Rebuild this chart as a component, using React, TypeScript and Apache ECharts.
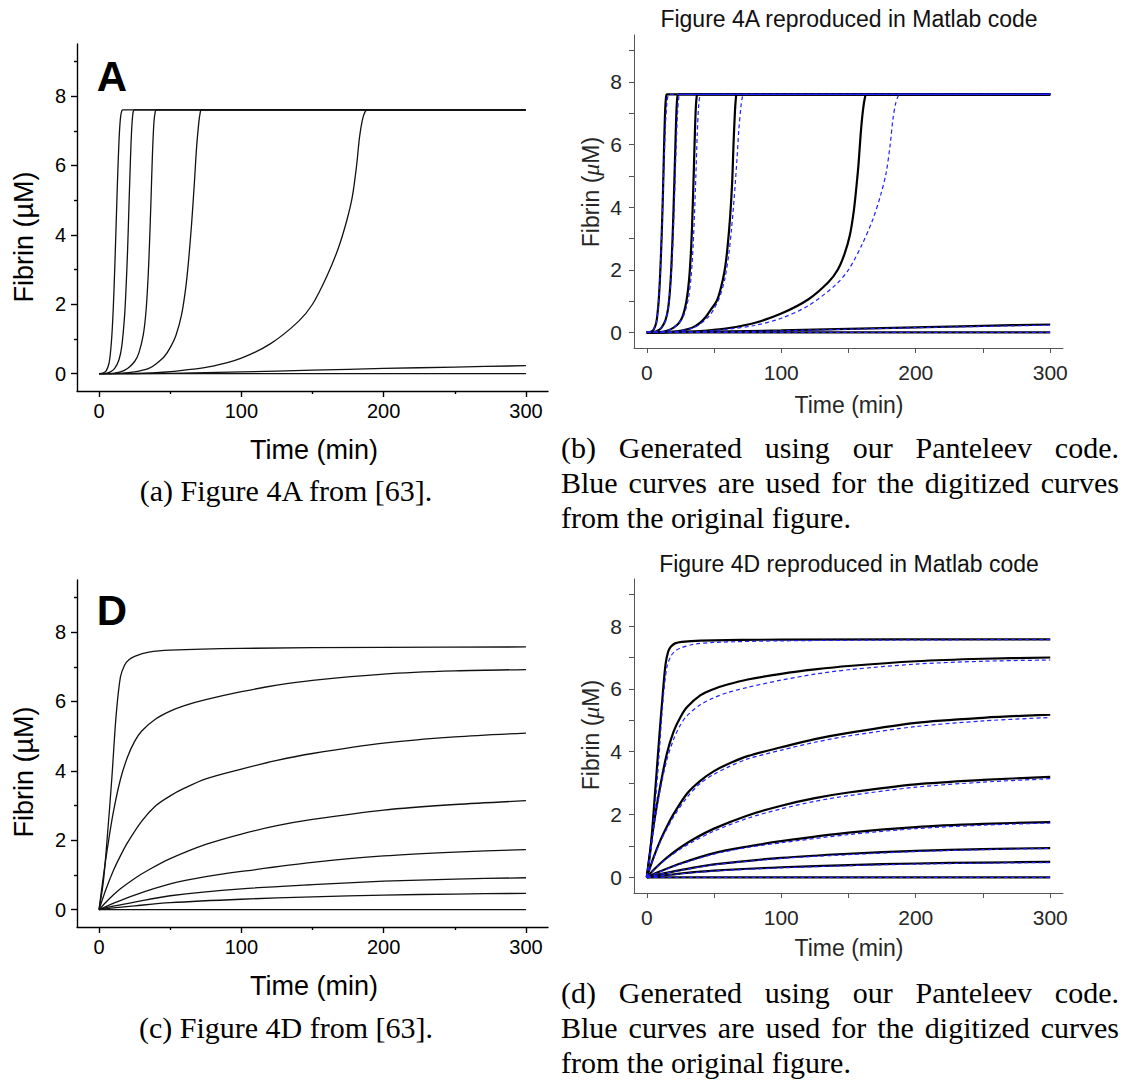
import React, { useEffect, useRef } from "react";
import * as echarts from "echarts";

// ---------- tick definitions ----------
const X_LABELS = [0, 100, 200, 300];
const X_MINOR = [50, 150, 250];
const Y_LABELS = [0, 2, 4, 6, 8];
const Y_MINOR = [1, 3, 5, 7, 9];

const fig4A_c1 = [[0, 0], [3, 0.02], [5, 0.08], [7, 0.3], [8, 0.6], [9, 1.1], [10, 1.9], [11, 3.0], [12, 4.3], [13, 5.6], [14, 6.7], [15, 7.35], [16, 7.58], [17, 7.6], [300, 7.6]];
const fig4A_c2 = [[0, 0], [5, 0.01], [8, 0.05], [11, 0.15], [14, 0.4], [16, 0.8], [18, 1.7], [19, 2.5], [20, 3.5], [21, 4.8], [22, 6.1], [23, 7.1], [24, 7.55], [25, 7.6], [300, 7.6]];
const fig4A_c3 = [[0, 0], [10, 0.01], [15, 0.05], [20, 0.15], [25, 0.35], [28, 0.6], [31, 1.1], [33, 1.8], [34.5, 2.8], [35.5, 3.8], [36.5, 5.0], [37.5, 6.3], [38.5, 7.2], [39.5, 7.55], [40.5, 7.6], [300, 7.6]];
const fig4A_c4 = [[0, 0], [15, 0.01], [25, 0.05], [35, 0.15], [40, 0.28], [46, 0.5], [50, 0.75], [54, 1.1], [58, 1.7], [61, 2.5], [63, 3.3], [65, 4.3], [67, 5.5], [68.5, 6.5], [70, 7.2], [71, 7.5], [72, 7.6], [300, 7.6]];
const fig4A_c5 = [[0, 0], [30, 0.01], [45, 0.04], [60, 0.1], [80, 0.22], [100, 0.45], [120, 0.85], [140, 1.5], [150, 2.0], [160, 2.8], [168, 3.6], [174, 4.4], [178, 5.1], [181, 6.0], [183, 6.8], [185, 7.3], [187, 7.55], [189, 7.6], [300, 7.6]];
const fig4A_c6 = [[0, 0], [50, 0.01], [100, 0.05], [150, 0.1], [200, 0.15], [250, 0.19], [300, 0.23]];
const fig4A_c7 = [[0, 0], [300, 0]];

// ---------- Figure 4A model (black curves in panel b) ----------
const model4A_1 = [[0, 0], [3, 0.02], [5, 0.08], [7, 0.3], [8, 0.6], [9, 1.1], [10, 1.9], [11, 3.0], [12, 4.4], [12.8, 5.8], [13.5, 6.9], [14.2, 7.45], [15, 7.6], [300, 7.6]];
const model4A_2 = [[0, 0], [5, 0.01], [8, 0.05], [11, 0.15], [14, 0.4], [16, 0.8], [17.5, 1.5], [18.5, 2.3], [19.5, 3.4], [20.5, 4.8], [21.3, 6.0], [22, 7.0], [22.7, 7.5], [23.5, 7.6], [300, 7.6]];
const model4A_3 = [[0, 0], [10, 0.01], [15, 0.05], [20, 0.15], [24, 0.3], [27, 0.55], [29.5, 1.0], [31.5, 1.7], [33, 2.7], [34, 3.8], [35, 5.2], [35.8, 6.4], [36.5, 7.2], [37.2, 7.55], [38, 7.6], [300, 7.6]];
const model4A_4 = [[0, 0], [15, 0.01], [25, 0.05], [32, 0.12], [36, 0.2], [40, 0.32], [44, 0.5], [48, 0.75], [52, 1.0], [55, 1.4], [58, 2.0], [60, 2.7], [62, 3.7], [63.5, 4.8], [64.5, 6.0], [65.5, 7.0], [66.3, 7.5], [67, 7.6], [300, 7.6]];
const model4A_5 = [[0, 0], [30, 0.02], [45, 0.06], [60, 0.13], [80, 0.3], [100, 0.6], [120, 1.05], [135, 1.6], [142, 2.0], [147, 2.5], [151, 3.1], [154, 3.9], [156, 4.7], [157.5, 5.4], [159, 6.3], [160.5, 7.0], [162, 7.45], [163.5, 7.6], [300, 7.6]];
const model4A_6 = [[0, 0], [50, 0.02], [100, 0.06], [150, 0.11], [200, 0.16], [250, 0.21], [300, 0.25]];
const model4A_7 = [[0, 0], [300, 0]];

const fig4D_c1 = [[0, 0], [3, 0.8], [6, 2.2], [9, 3.8], [12, 5.6], [15, 6.7], [18, 7.05], [21, 7.2], [25, 7.3], [35, 7.42], [50, 7.48], [100, 7.53], [200, 7.56], [300, 7.57]];
const fig4D_c2 = [[0, 0], [3, 0.95], [6, 1.8], [10, 2.8], [15, 3.75], [20, 4.4], [25, 4.85], [30, 5.15], [40, 5.5], [50, 5.72], [60, 5.88], [75, 6.05], [100, 6.28], [125, 6.47], [150, 6.61], [200, 6.79], [250, 6.88], [300, 6.92]];
const fig4D_c3 = [[0, 0], [5, 0.6], [10, 1.12], [15, 1.55], [20, 1.93], [30, 2.55], [40, 3.0], [50, 3.28], [60, 3.5], [75, 3.77], [100, 4.05], [125, 4.3], [150, 4.5], [200, 4.8], [250, 4.98], [300, 5.09]];
const fig4D_c4 = [[0, 0], [5, 0.22], [10, 0.42], [15, 0.6], [25, 0.9], [35, 1.15], [50, 1.47], [75, 1.88], [100, 2.18], [125, 2.42], [150, 2.6], [200, 2.87], [250, 3.03], [300, 3.14]];
const fig4D_c5 = [[0, 0], [10, 0.18], [25, 0.42], [50, 0.74], [75, 0.95], [100, 1.1], [150, 1.36], [200, 1.55], [250, 1.66], [300, 1.73]];
const fig4D_c6 = [[0, 0], [10, 0.1], [25, 0.22], [50, 0.4], [100, 0.6], [150, 0.72], [200, 0.82], [250, 0.88], [300, 0.92]];
const fig4D_c7 = [[0, 0], [10, 0.05], [25, 0.11], [50, 0.2], [100, 0.3], [150, 0.37], [200, 0.42], [250, 0.45], [300, 0.47]];
const fig4D_c8 = [[0, 0], [300, 0]];

// ---------- Figure 4D model (black curves in panel d) ----------
const model4D_1 = [[0, 0], [3, 1.0], [6, 2.6], [9, 4.3], [12, 5.9], [14, 6.8], [16, 7.2], [18, 7.35], [21, 7.45], [26, 7.5], [40, 7.54], [100, 7.57], [300, 7.58]];
const model4D_2 = [[0, 0], [3, 1.0], [6, 1.9], [10, 2.9], [15, 3.95], [20, 4.65], [25, 5.1], [30, 5.42], [40, 5.8], [50, 6.0], [60, 6.14], [75, 6.3], [100, 6.48], [125, 6.62], [150, 6.73], [200, 6.88], [250, 6.96], [300, 7.0]];
const model4D_3 = [[0, 0], [5, 0.63], [10, 1.17], [15, 1.62], [20, 2.02], [30, 2.67], [40, 3.08], [50, 3.38], [60, 3.6], [75, 3.86], [100, 4.14], [125, 4.4], [150, 4.6], [200, 4.92], [250, 5.08], [300, 5.18]];
const model4D_4 = [[0, 0], [5, 0.23], [10, 0.44], [15, 0.63], [25, 0.95], [35, 1.22], [50, 1.55], [75, 1.97], [100, 2.28], [125, 2.52], [150, 2.7], [200, 2.96], [250, 3.1], [300, 3.2]];
const model4D_5 = [[0, 0], [10, 0.19], [25, 0.44], [50, 0.77], [75, 0.98], [100, 1.15], [150, 1.42], [200, 1.6], [250, 1.7], [300, 1.76]];
const model4D_6 = [[0, 0], [10, 0.1], [25, 0.23], [50, 0.41], [100, 0.62], [150, 0.75], [200, 0.84], [250, 0.9], [300, 0.93]];
const model4D_7 = [[0, 0], [10, 0.05], [25, 0.12], [50, 0.21], [100, 0.32], [150, 0.39], [200, 0.44], [250, 0.47], [300, 0.49]];
const model4D_8 = [[0, 0], [300, 0]];

const ORIG_4A = [fig4A_c1, fig4A_c2, fig4A_c3, fig4A_c4, fig4A_c5, fig4A_c6, fig4A_c7];
const MODEL_4A = [model4A_1, model4A_2, model4A_3, model4A_4, model4A_5, model4A_6, model4A_7];
const ORIG_4D = [fig4D_c1, fig4D_c2, fig4D_c3, fig4D_c4, fig4D_c5, fig4D_c6, fig4D_c7, fig4D_c8];
const MODEL_4D = [model4D_1, model4D_2, model4D_3, model4D_4, model4D_5, model4D_6, model4D_7, model4D_8];

const SANS = "'Liberation Sans', Arial, sans-serif";
const SERIF = "'Liberation Serif', 'Times New Roman', serif";

type Panel = {
  left: number; top: number; width: number; height: number;
  xMin: number; xMax: number; origin: boolean;
};

const PANELS: Panel[] = [
  { left: 77, top: 44, width: 471, height: 347, xMin: -15.5, xMax: 315.5, origin: true },
  { left: 634, top: 35, width: 429, height: 313, xMin: -9.5, xMax: 309.5, origin: false },
  { left: 77, top: 580, width: 471, height: 347, xMin: -15.5, xMax: 315.5, origin: true },
  { left: 634, top: 579, width: 429, height: 314, xMin: -9.5, xMax: 309.5, origin: false },
];

function buildAxes() {
  const xAxis: any[] = [];
  const yAxis: any[] = [];
  PANELS.forEach((p, g) => {
    const lineColor = p.origin ? "#000" : "#555";
    const lineWidth = p.origin ? 1.4 : 1;
    const textColor = p.origin ? "#000" : "#262626";
    const fontSize = p.origin ? 20 : 21;
    const majorLen = p.origin ? 6 : 5;
    const minorLen = p.origin ? 3 : 5;
    const common = { type: "value", gridIndex: g, splitLine: { show: false } };
    xAxis.push({
      ...common, min: p.xMin, max: p.xMax, position: "bottom",
      axisLine: { show: true, onZero: false, lineStyle: { color: lineColor, width: lineWidth } },
      axisTick: { show: true, length: majorLen, customValues: X_LABELS, lineStyle: { color: lineColor, width: lineWidth } },
      axisLabel: { show: true, customValues: X_LABELS, margin: p.origin ? 10 : 14, fontSize, color: textColor, fontFamily: SANS },
    });
    xAxis.push({
      ...common, min: p.xMin, max: p.xMax, position: "bottom",
      axisLine: { show: false, onZero: false },
      axisTick: { show: true, length: minorLen, customValues: X_MINOR, lineStyle: { color: lineColor, width: lineWidth } },
      axisLabel: { show: false },
    });
    yAxis.push({
      ...common, min: -0.5, max: 9.5, position: "left",
      axisLine: { show: true, onZero: false, lineStyle: { color: lineColor, width: lineWidth } },
      axisTick: { show: true, length: majorLen, customValues: Y_LABELS, lineStyle: { color: lineColor, width: lineWidth } },
      axisLabel: { show: true, customValues: Y_LABELS, margin: p.origin ? 11 : 12, fontSize, color: textColor, fontFamily: SANS },
    });
    yAxis.push({
      ...common, min: -0.5, max: 9.5, position: "left",
      axisLine: { show: false, onZero: false },
      axisTick: { show: true, length: minorLen, customValues: Y_MINOR, lineStyle: { color: lineColor, width: lineWidth } },
      axisLabel: { show: false },
    });
  });
  return { xAxis, yAxis };
}

function lineSeries(data: number[][], g: number, color: string, width: number, dashed: boolean, z: number) {
  return {
    type: "line",
    xAxisIndex: 2 * g,
    yAxisIndex: 2 * g,
    data,
    showSymbol: false,
    symbol: "none",
    silent: true,
    smooth: 0.3,
    z,
    lineStyle: { color, width, type: dashed ? [4, 3] : "solid" },
  };
}

function buildSeries() {
  const s: any[] = [];
  ORIG_4A.forEach((d) => s.push(lineSeries(d, 0, "#111", 1.3, false, 2)));
  MODEL_4A.forEach((d) => s.push(lineSeries(d, 1, "#000", 2.2, false, 2)));
  ORIG_4A.forEach((d) => s.push(lineSeries(d, 1, "#1f1fff", 1.2, true, 3)));
  ORIG_4D.forEach((d) => s.push(lineSeries(d, 2, "#111", 1.3, false, 2)));
  MODEL_4D.forEach((d) => s.push(lineSeries(d, 3, "#000", 2.2, false, 2)));
  ORIG_4D.forEach((d) => s.push(lineSeries(d, 3, "#1f1fff", 1.2, true, 3)));
  return s;
}

const CAP_FONT = 30;

function measure(text: string) {
  const c = document.createElement("canvas").getContext("2d");
  if (!c) return text.length * CAP_FONT * 0.45;
  c.font = `${CAP_FONT}px 'Liberation Serif'`;
  return c.measureText(text).width;
}

function justified(words: string[], x0: number, x1: number, y: number) {
  const widths = words.map(measure);
  const total = widths.reduce((a, b) => a + b, 0);
  const gap = (x1 - x0 - total) / (words.length - 1);
  let x = x0;
  return words.map((w, i) => {
    const el = {
      type: "text", x, y,
      style: { text: w, fontSize: CAP_FONT, fontFamily: SERIF, fill: "#000", align: "left", verticalAlign: "middle" },
    };
    x += widths[i] + gap;
    return el;
  });
}

function txt(text: string, x: number, y: number, size: number, opts: any = {}) {
  return {
    type: "text", x, y, rotation: opts.rotation || 0,
    style: {
      text, fontSize: size, fontFamily: opts.family || SANS, fontWeight: opts.weight || "normal",
      fill: opts.color || "#000", align: opts.align || "center", verticalAlign: "middle",
    },
  };
}

function fibrinMatlab(x: number, y: number) {
  return {
    type: "text", x, y, rotation: Math.PI / 2,
    style: {
      text: "{n|Fibrin (}{m|μ}{n|M)}", align: "center", verticalAlign: "middle",
      rich: {
        n: { fontSize: 23, fontFamily: SANS, fill: "#262626" },
        m: { fontSize: 24, fontFamily: SERIF, fontStyle: "italic", fill: "#262626" },
      },
    },
  };
}

function buildGraphics() {
  const g: any[] = [];
  // panel a
  g.push(txt("A", 112, 76, 42, { weight: "bold" }));
  g.push(txt("Fibrin (µM)", 24, 237, 27, { rotation: Math.PI / 2 }));
  g.push(txt("Time (min)", 314, 450, 27));
  g.push(txt("(a) Figure 4A from [63].", 286, 490, CAP_FONT, { family: SERIF }));
  // panel b
  g.push(txt("Figure 4A reproduced in Matlab code", 849, 19, 23, { color: "#111" }));
  g.push(fibrinMatlab(591, 192));
  g.push(txt("Time (min)", 849, 405, 23, { color: "#262626" }));
  g.push(...justified(["(b)", "Generated", "using", "our", "Panteleev", "code."], 561, 1119, 447));
  g.push(...justified(["Blue", "curves", "are", "used", "for", "the", "digitized", "curves"], 561, 1119, 482));
  g.push(txt("from the original figure.", 561, 517, CAP_FONT, { family: SERIF, align: "left" }));
  // panel c
  g.push(txt("D", 112, 610, 42, { weight: "bold" }));
  g.push(txt("Fibrin (µM)", 24, 772, 27, { rotation: Math.PI / 2 }));
  g.push(txt("Time (min)", 314, 986, 27));
  g.push(txt("(c) Figure 4D from [63].", 286, 1027, CAP_FONT, { family: SERIF }));
  // panel d
  g.push(txt("Figure 4D reproduced in Matlab code", 849, 564, 23, { color: "#111" }));
  g.push(fibrinMatlab(591, 735));
  g.push(txt("Time (min)", 849, 948, 23, { color: "#262626" }));
  g.push(...justified(["(d)", "Generated", "using", "our", "Panteleev", "code."], 561, 1119, 992));
  g.push(...justified(["Blue", "curves", "are", "used", "for", "the", "digitized", "curves"], 561, 1119, 1027));
  g.push(txt("from the original figure.", 561, 1062, CAP_FONT, { family: SERIF, align: "left" }));
  return g;
}

export default function App() {
  const ref = useRef<HTMLDivElement>(null);
  useEffect(() => {
    if (!ref.current) return;
    const chart = echarts.init(ref.current, undefined, { renderer: "svg" });
    const { xAxis, yAxis } = buildAxes();
    chart.setOption({
      animation: false,
      backgroundColor: "#fff",
      grid: PANELS.map((p) => ({ left: p.left, top: p.top, width: p.width, height: p.height, containLabel: false })),
      xAxis,
      yAxis,
      series: buildSeries(),
      graphic: buildGraphics(),
    });
    return () => chart.dispose();
  }, []);
  return (
    <div
      ref={ref}
      style={{ position: "absolute", left: 0, top: 0, width: 1122, height: 1082, background: "#fff" }}
    />
  );
}
